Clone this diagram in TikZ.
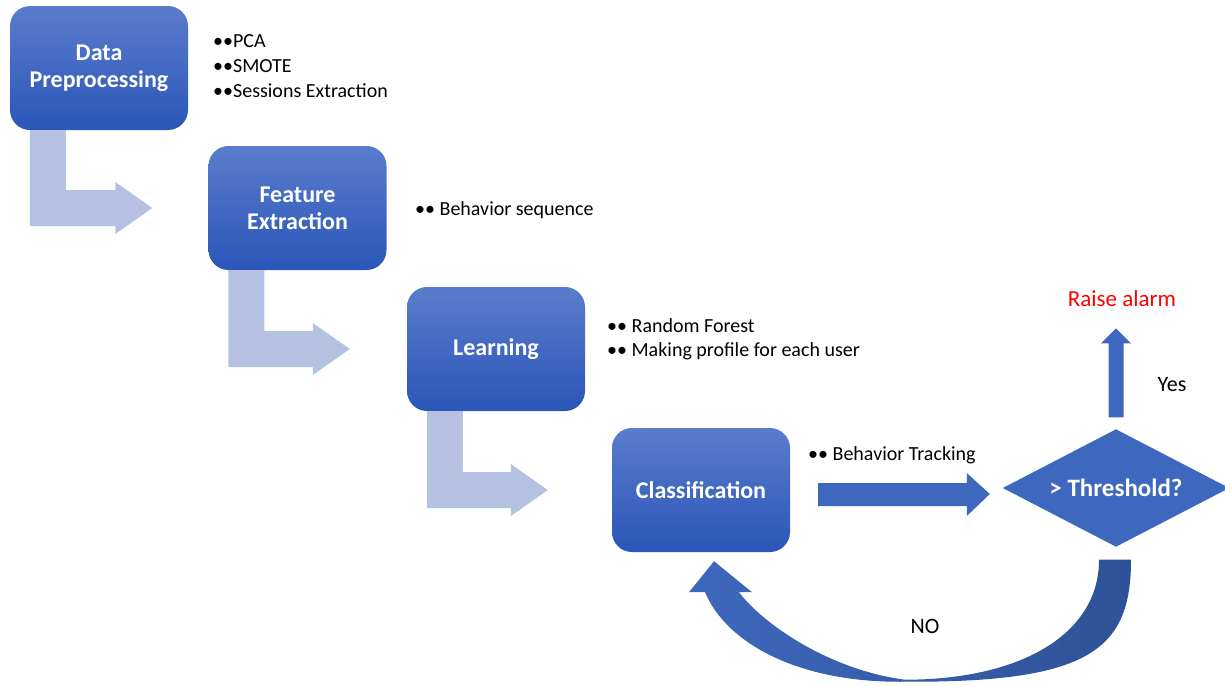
\documentclass[tikz,border=0pt]{standalone}
\usepackage{fontspec}
\setmainfont{Carlito}
\usetikzlibrary{calc}

\definecolor{boxtop}{RGB}{90,124,204}
\definecolor{boxbot}{RGB}{42,86,184}
\definecolor{flowblue}{RGB}{62,104,189}
\definecolor{deepblue}{RGB}{46,82,150}
\definecolor{paleblue}{RGB}{181,193,225}
\definecolor{alarmred}{RGB}{255,0,0}

% pale bent arrow leaving the bottom of one stage and pointing at the next
\newcommand\bentflow[3]{%
  \fill[paleblue] let \p1=(#1.south west), \p2=(#2.west) in
    (\x1+20pt,\y1) -- (\x1+20pt,\y2-18pt) -- (\x2-#3pt-37pt,\y2-18pt)
    -- (\x2-#3pt-37pt,\y2-26pt) -- (\x2-#3pt,\y2) -- (\x2-#3pt-37pt,\y2+26pt)
    -- (\x2-#3pt-37pt,\y2+18pt) -- (\x1+56pt,\y2+18pt) -- (\x1+56pt,\y1) -- cycle;}

\begin{document}
\begin{tikzpicture}[x=1pt,y=-1pt,
  stage/.style={rounded corners=20pt, minimum width=178pt, minimum height=124pt,
    top color=boxtop, bottom color=boxbot, text=white, align=center, inner sep=0pt,
    font=\fontsize{24}{27}\selectfont\bfseries},
  note/.style={anchor=west, inner sep=0pt, font=\fontsize{20}{25}\selectfont},
  label/.style={inner sep=0pt, font=\fontsize{22}{24}\selectfont}]
\useasboundingbox (0,0) rectangle (1225,686);

% process stages
\node[stage] (prep)  at (99,68)    {Data\\Preprocessing};
\node[stage] (feat)  at (297.5,208) {Feature\\Extraction};
\node[stage] (learn) at (496,349)  {Learning};
\node[stage] (cls)   at (701,490)  {Classification};

% decision: a diamond filling the frame of this node
\node[inner sep=0pt, minimum width=226pt, minimum height=117pt] (dec) at (1116,488) {};
\fill[flowblue] (dec.west) -- (dec.north) -- (dec.east) -- (dec.south) -- cycle;
\node[text=white, inner sep=0pt, font=\fontsize{25}{27}\selectfont\bfseries] (dectext) at (dec.center) {> Threshold?};

% stage notes
\node[note] (n1) at (213,41) {••PCA};
\node[note] (n2) at (213,66) {••SMOTE};
\node[note] (n3) at (213,91) {••Sessions Extraction};
\node[note] (n4) at (415,210) {•• Behavior sequence};
\node[note] (n5) at (607,326) {•• Random Forest};
\node[note] (n6) at (607,351) {•• Making profile for each user};
\node[note] (n7) at (808,455) {•• Behavior Tracking};

% outcome labels
\node[label, text=alarmred, font=\fontsize{23}{24}\selectfont] (alarm) at (1122,299) {Raise alarm};
\node[label] (yes) at (1172,385) {Yes};
\node[label] (no)  at (925,626) {NO};

% pale flow between stages
\bentflow{prep}{feat}{56}
\bentflow{feat}{learn}{57}
\bentflow{learn}{cls}{64}

% classification to decision
\fill[flowblue] let \p1=(cls.east), \p2=(dec.west) in
  (\x1+28pt,\y1+7pt) -- (\x2-36pt,\y1+7pt) -- (\x2-36pt,\y1+17pt) -- (\x2-13pt,\y1-4pt)
  -- (\x2-36pt,\y1-26pt) -- (\x2-36pt,\y1-16pt) -- (\x1+28pt,\y1-16pt) -- cycle;

% decision to alarm
\fill[flowblue] let \p1=(dec.north) in
  (\x1-7.5pt,\y1+12pt) -- (\x1-7.5pt,\y1+86pt) -- (\x1-15pt,\y1+86pt) -- (\x1,\y1+101pt)
  -- (\x1+15pt,\y1+86pt) -- (\x1+7.5pt,\y1+86pt) -- (\x1+7.5pt,\y1+12pt) -- cycle;

% loop back from decision to classification
\shade[left color=flowblue, right color=deepblue] let \p1=(dec.south), \p2=(cls.south) in
  (\x1+15pt,\y1-13pt) .. controls (\x1+15pt,\y1-103pt) and (\x1-26pt,\y1-136pt) .. (\x1-211pt,\y1-135pt)
  .. controls (\x2+99pt,\y2-131pt) and (\x2+26pt,\y2-92pt) .. (\x2+4pt,\y2-40pt)
  -- (\x2-12pt,\y2-40pt) -- (\x2+13pt,\y2-9pt) -- (\x2+51pt,\y2-40pt) -- (\x2+38pt,\y2-40pt)
  .. controls (\x2+63pt,\y2-73pt) and (\x2+130pt,\y2-118pt) .. (\x1-211pt,\y1-133pt)
  .. controls (\x1-96pt,\y1-133pt) and (\x1-17pt,\y1-88pt) .. (\x1-17pt,\y1-13pt) -- cycle;
\end{tikzpicture}
\end{document}
